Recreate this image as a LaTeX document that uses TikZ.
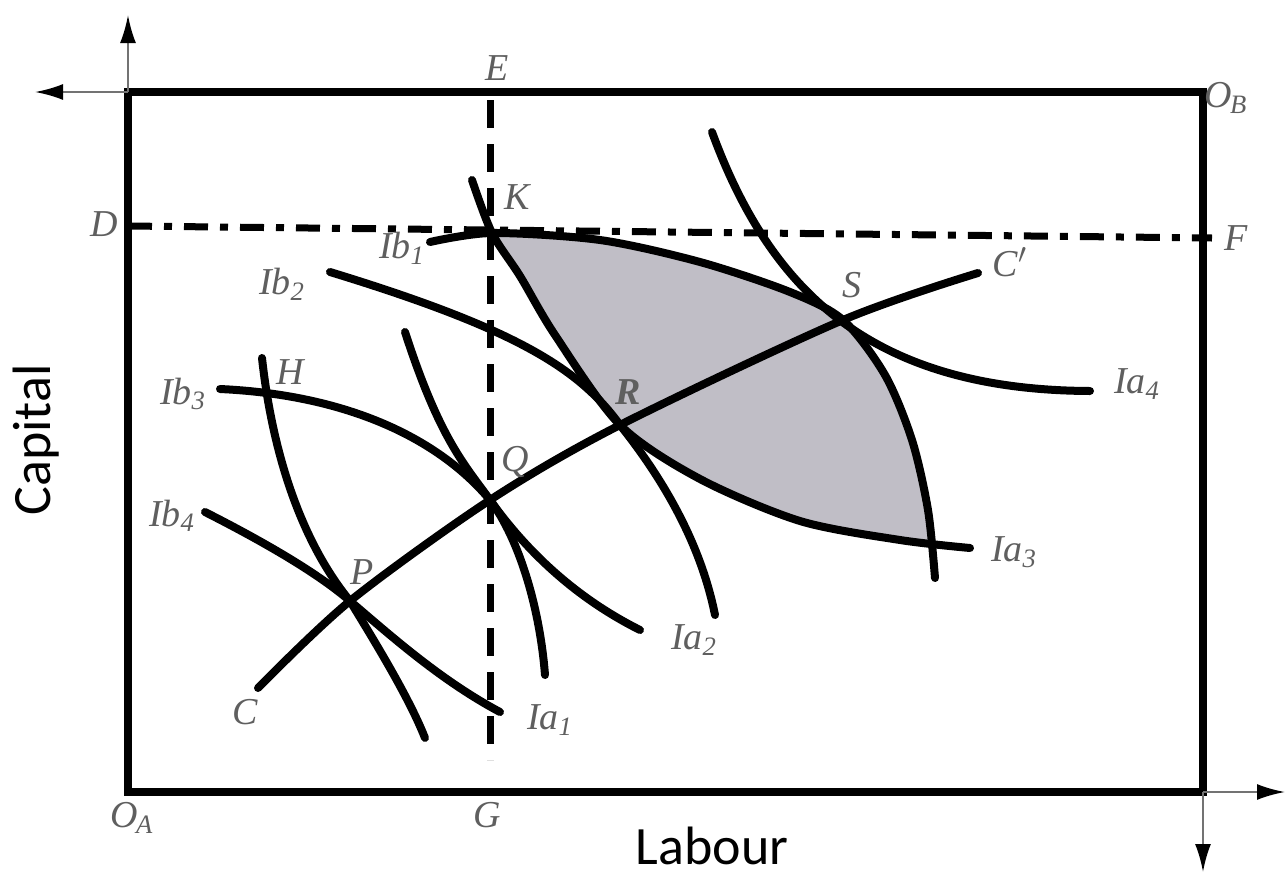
\documentclass[tikz,border=0pt]{standalone}
\usepackage{fontspec}
\setmainfont{Liberation Serif}
\newfontfamily\axisfont{Carlito}
\usetikzlibrary{arrows.meta}
\definecolor{lensgray}{RGB}{192,190,198}
\definecolor{labelgray}{RGB}{95,95,95}

\begin{document}
\begin{tikzpicture}[x=0.5pt,y=-0.5pt,
  curve/.style={line width=4pt,line cap=round,line join=round},
  box/.style={line width=4pt,line join=miter},
  vdash/.style={line width=3.5pt,dash pattern=on 14pt off 8pt},
  hdash/.style={line width=3.5pt,dash pattern=on 12pt off 6pt on 4pt off 6pt},
  axis/.style={black!55,line width=1.2pt,-{Latex[length=14pt,width=8pt,color=black]}},
  lbl/.style={text=labelgray,font=\itshape\fontsize{19}{21}\selectfont,inner sep=0pt},
  axlbl/.style={font=\axisfont\fontsize{27}{30}\selectfont,inner sep=0pt}]
\useasboundingbox (0,0) rectangle (1287,879);
% corners and key points
\coordinate (OA) at (128,792);
\coordinate (OB) at (1203,92);
\coordinate (TL) at (128,92);
\coordinate (BR) at (1203,792);
\coordinate (upTip) at (128,15);
\coordinate (leftTip) at (35,92);
\coordinate (rightTip) at (1285,792);
\coordinate (downTip) at (1203,872);
\coordinate (E) at (490,100);
\coordinate (G) at (490,760);
\coordinate (D) at (128,226);
\coordinate (F) at (1212,238);
\coordinate (K) at (492,233);
\coordinate (P) at (350,601);
\coordinate (Q) at (490,500);
\coordinate (R) at (620,425);
\coordinate (S) at (843,320);
\coordinate (M) at (930,543);
\coordinate (C) at (258,688);
\coordinate (Cp) at (978,273);

% shaded lens between Ib1 and Ia3
\fill[lensgray] (K) -- plot[smooth] coordinates {(K) (600,240) (700,262) (790,292) (S) (885,375) (912,440) (M)}
  -- plot[smooth] coordinates {(M) (800,521) (700,479) (R) (555,335) (520,276) (K)} -- cycle;

% dashed guides
\draw[vdash] (E) -- (G);
\draw[hdash] (D) -- (F);

% indifference curves
\draw[curve] plot[smooth] coordinates {(430,242) (K) (600,240) (700,262) (790,292) (S) (885,375) (912,440) (928,510) (935,578)};
\draw[curve] plot[smooth] coordinates {(472,180) (K) (520,276) (555,335) (R) (700,479) (800,521) (900,540) (970,548)};
\draw[curve] (712,132) .. controls (770,290) and (870,390) .. (1090,391);
\draw[curve] (330,272) .. controls (520,330) and (580,370) .. (R) .. controls (660,475) and (700,540) .. (715,615);
\draw[curve] (220,389) .. controls (350,395) and (440,440) .. (Q) .. controls (520,540) and (540,610) .. (545,675);
\draw[curve] (405,332) .. controls (440,440) and (465,465) .. (Q) .. controls (530,556) and (580,600) .. (640,630);
\draw[curve] (262,358) .. controls (272,450) and (300,540) .. (P) .. controls (380,650) and (410,700) .. (425,738);
\draw[curve] (205,512) .. controls (270,545) and (320,575) .. (P) .. controls (390,635) and (440,680) .. (500,712);
% contract curve
\draw[curve] plot[smooth] coordinates {(C) (P) (Q) (R) (S) (Cp)};

% box and axes
\draw[box] (OA) rectangle (OB);
\draw[axis] (TL) -- (upTip);
\draw[axis] (TL) -- (leftTip);
\draw[axis] (BR) -- (rightTip);
\draw[axis] (BR) -- (downTip);

% labels
\node[lbl] (l-E) at (497,68) {E};
\node[lbl] (l-OB) at (1226,98) {O\textsubscript{\kern-1pt B}};
\node[lbl] (l-D) at (104,224) {D};
\node[lbl] (l-F) at (1236,238) {F};
\node[lbl] (l-OA) at (132,818) {O\textsubscript{\kern-1pt A}};
\node[lbl] (l-G) at (487,815) {G};
\node[lbl] (l-K) at (517,197) {K};
\node[lbl] (l-H) at (290,372) {H};
\node[lbl] (l-S) at (852,285) {S};
\node[lbl] (l-Cp) at (1010,262) {C$'$};
\node[lbl,font=\bfseries\itshape\fontsize{19}{21}\selectfont] (l-R) at (628,392) {R};
\node[lbl] (l-Q) at (515,462) {Q};
\node[lbl] (l-P) at (362,572) {P};
\node[lbl] (l-C) at (245,712) {C};
\node[lbl] (l-Ib1) at (402,248) {Ib\textsubscript{1}};
\node[lbl] (l-Ib2) at (282,284) {Ib\textsubscript{2}};
\node[lbl] (l-Ib3) at (183,394) {Ib\textsubscript{3}};
\node[lbl] (l-Ib4) at (172,516) {Ib\textsubscript{4}};
\node[lbl] (l-Ia1) at (550,720) {Ia\textsubscript{1}};
\node[lbl] (l-Ia2) at (694,640) {Ia\textsubscript{2}};
\node[lbl] (l-Ia3) at (1014,552) {Ia\textsubscript{3}};
\node[lbl] (l-Ia4) at (1137,384) {Ia\textsubscript{4}};
\node[axlbl,rotate=90] (l-cap) at (36,440) {Capital};
\node[axlbl] (l-lab) at (712,846) {Labour};
\end{tikzpicture}
\end{document}
